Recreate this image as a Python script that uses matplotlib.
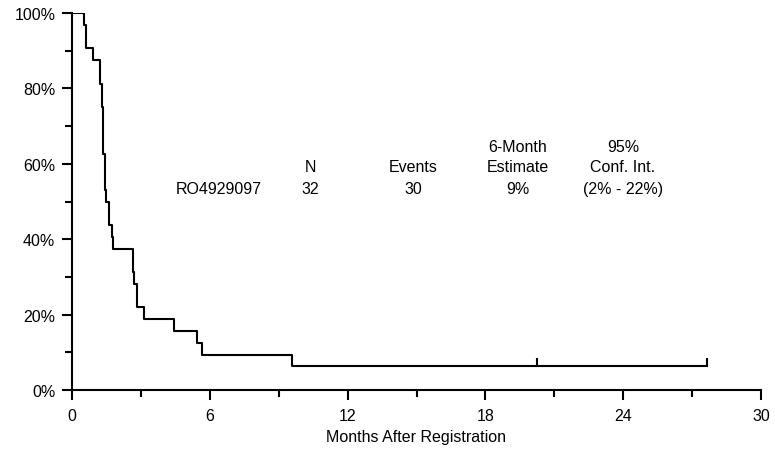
import numpy as np
import matplotlib
matplotlib.use("Agg")
import matplotlib.pyplot as plt
from matplotlib.ticker import MultipleLocator, FuncFormatter

plt.rcParams['font.family'] = ['Liberation Sans', 'DejaVu Sans']

# Kaplan-Meier steps (months, % surviving)
times = [0, 0.54, 0.61, 0.93, 1.22, 1.29, 1.36, 1.44, 1.48, 1.62, 1.73, 1.80,
         2.67, 2.71, 2.82, 3.12, 4.45, 5.44, 5.66, 9.59, 27.67]
surv = [100, 96.9, 90.6, 87.5, 81.25, 75.0, 62.5, 53.1, 50.0, 43.75, 40.6, 37.5,
        31.25, 28.1, 21.9, 18.75, 15.6, 12.5, 9.4, 6.25, 6.25]
censor_t = [20.26, 27.67]
censor_s = [6.25, 6.25]

hdr_x = [219, 310, 413, 518, 623]  # column centres in pixels
row1 = ["", "", "", "6-Month", "95%"]
row2 = ["", "N", "Events", "Estimate", "Conf. Int."]
row3 = ["RO4929097", "32", "30", "9%", "(2% - 22%)"]

fs = 11.5

fig = plt.figure(figsize=(7.75, 4.52), dpi=100)
ax = fig.add_axes([72/775, 61/452, 689/775, 377/452])

ax.step(times, surv, where='post', color='black', lw=1.5)
ax.vlines(censor_t, censor_s, np.array(censor_s) + 2.2, color='black', lw=1.5)

ax.set_xlim(0, 30)
ax.set_ylim(0, 100)
ax.xaxis.set_major_locator(MultipleLocator(6))
ax.xaxis.set_minor_locator(MultipleLocator(3))
ax.yaxis.set_major_locator(MultipleLocator(20))
ax.yaxis.set_minor_locator(MultipleLocator(10))
ax.yaxis.set_major_formatter(FuncFormatter(lambda v, p: f"{v:.0f}%"))
ax.tick_params(which='major', length=7, width=1.5, labelsize=fs)
ax.tick_params(which='minor', length=5, width=1.5)
ax.tick_params(axis='x', which='major', pad=6)
ax.tick_params(axis='y', which='major', pad=5)
for s in ['top', 'right']:
    ax.spines[s].set_visible(False)
for s in ['left', 'bottom']:
    ax.spines[s].set_linewidth(1.5)
ax.set_xlabel("Months After Registration", fontsize=fs, labelpad=4)

def to_data(px, py):
    return (px - 72) / 689 * 30, (391 - py) / 377 * 100

for px, a, b, c in zip(hdr_x, row1, row2, row3):
    for txt, py in [(a, 148), (b, 167), (c, 190)]:
        if txt:
            x, y = to_data(px, py)
            ax.text(x, y, txt, ha='center', va='center', fontsize=fs)

fig.savefig("out.png", dpi=100)
